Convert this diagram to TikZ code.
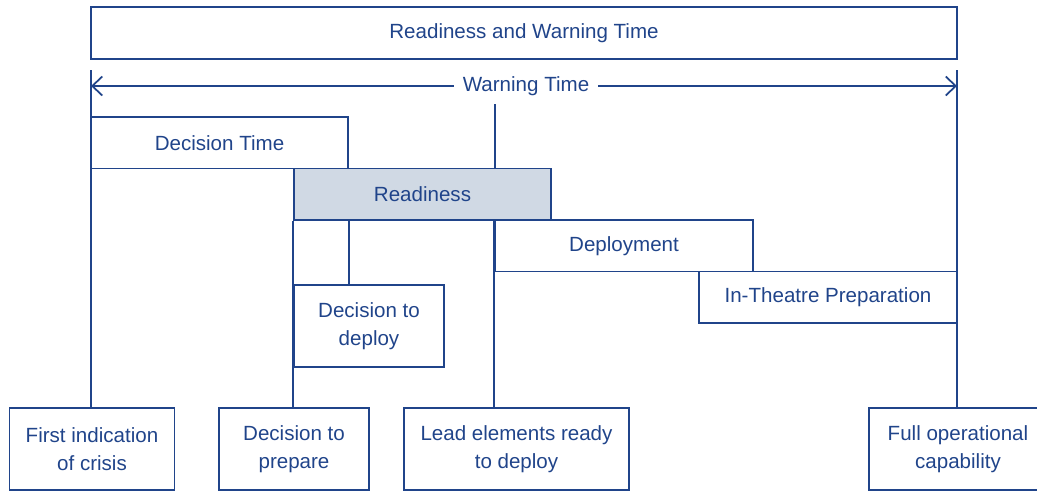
\documentclass[tikz,border=0pt]{standalone}
\usepackage{fontspec}
\setmainfont{Liberation Sans}
\usetikzlibrary{arrows.meta}
\definecolor{navy}{RGB}{32,68,138}
\definecolor{readyfill}{RGB}{208,217,228}
\tikzset{
	box/.style={draw=navy, line width=0.35mm, text=navy, align=center, minimum height=1.03cm, inner sep=0pt},
	tallbox/.style={box, minimum height=1.64cm},
	link/.style={draw=navy, line width=0.35mm},
	barb/.style={link, -{Straight Barb[length=2mm, width=3.8mm]}}
}
\begin{document}
\begin{tikzpicture}[x=0.02cm, y=-0.02cm, font=\fontsize{11.7}{16}\selectfont]
					\useasboundingbox (0,0) rectangle (1037,490);
					
					\node[box, minimum width=17.32cm, minimum height=1.04cm] (rwt) at (524,33) {Readiness and Warning Time};
					
					\coordinate (lt) at (91,70);
					\coordinate (rt) at (957,70);
					\coordinate (mt) at (495,104);
					\node[text=navy, inner xsep=0.17cm, inner ysep=0pt] (wt) at (526,86) {Warning Time};
					\draw[barb] (wt.west) -- (lt |- wt);
					\draw[barb] (wt.east) -- (rt |- wt);
					
					\node[box, minimum width=5.14cm] (dtime) at (219.5,142.75) {Decision Time};
					\node[box, minimum width=5.14cm, fill=readyfill] (ready) at (422.5,194.25) {Readiness};
					\node[box, minimum width=5.16cm] (deploy) at (624,245.75) {Deployment};
					\node[box, minimum width=5.16cm] (theatre) at (828,297.25) {In-Theatre Preparation};
					\node[tallbox, minimum width=3.0cm] (todeploy) at (369,326) {Decision to\\deploy};
					
					\node[tallbox, minimum width=3.3cm] (first) at (92,449) {First indication\\of crisis};
					\node[tallbox, minimum width=3.0cm] (prep) at (294,449) {Decision to\\prepare};
					\node[tallbox, minimum width=4.5cm] (lead) at (516.5,449) {Lead elements ready\\to deploy};
					\node[tallbox, minimum width=3.56cm] (full) at (958,449) {Full operational\\capability};
					
					\draw[link] (lt) -- (lt |- first.north);
					\draw[link] (rt) -- (rt |- full.north);
					\draw[link] (mt) -- (mt |- ready.north);
					\draw[link] (deploy.north west) -- (deploy.north west |- lead.north);
					\draw[link] (ready.south west) -- (ready.south west |- prep.north);
					\draw[link] (dtime.east |- ready.south) -- (dtime.east |- todeploy.north);
				\end{tikzpicture}
\end{document}
